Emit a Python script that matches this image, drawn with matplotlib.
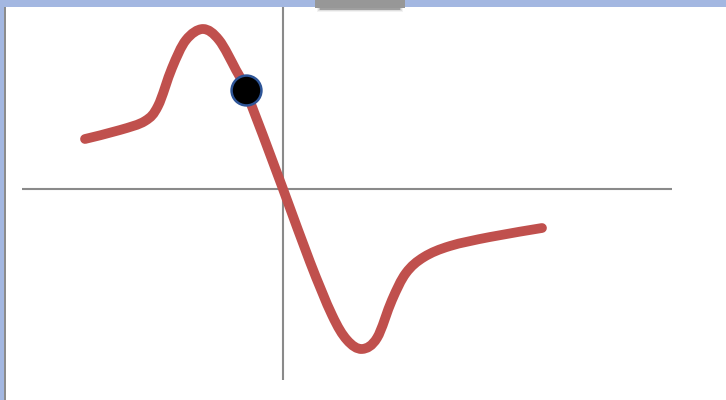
import matplotlib
matplotlib.use("Agg")
import matplotlib.pyplot as plt
from matplotlib.patches import Rectangle, PathPatch
from matplotlib.path import Path

# Curve values (offsets from the axes crossing; y up)
curve_x = [-198, -163, -138, -125, -111, -97, -80, -64, -47, -37, 0, 27, 49, 64, 79,
           94, 109, 123, 141, 167, 207, 259]
curve_y = [50, 59, 68, 83, 121, 149, 160, 149, 119, 98, 0, -73, -126, -151, -160,
           -149, -111, -84, -68, -57, -48, -39]
point_x = [-37]
point_y = [99]

# axis extents
h_axis = (-261, 389)
v_axis = (-191, 182)

W, H = 726, 400
fig = plt.figure(figsize=(W / 100, H / 100), dpi=100)
ax = fig.add_axes([0, 0, 1, 1])
ax.set_xlim(-283, W - 283)
ax.set_ylim(189 - H, 189)
ax.axis("off")

axis_col = "#8a8a8a"
ax.plot(h_axis, [0, 0], color=axis_col, lw=1.5, solid_capstyle="butt", zorder=1)
ax.plot([0, 0], v_axis, color=axis_col, lw=1.5, solid_capstyle="butt", zorder=1)

# smooth curve through the read points (Catmull-Rom as cubic Bezier)
pts = list(zip(curve_x, curve_y))
n = len(pts)
verts = [pts[0]]
codes = [Path.MOVETO]
for i in range(n - 1):
    p0 = pts[max(i - 1, 0)]
    p1 = pts[i]
    p2 = pts[i + 1]
    p3 = pts[min(i + 2, n - 1)]
    c1 = (p1[0] + (p2[0] - p0[0]) / 6, p1[1] + (p2[1] - p0[1]) / 6)
    c2 = (p2[0] - (p3[0] - p1[0]) / 6, p2[1] - (p3[1] - p1[1]) / 6)
    verts += [c1, c2, p2]
    codes += [Path.CURVE4] * 3
patch = PathPatch(Path(verts, codes), facecolor="none", edgecolor="#c0504d",
                  lw=7.0, capstyle="round", joinstyle="round", zorder=2)
ax.add_patch(patch)

ax.plot(point_x, point_y, "o", color="black", markersize=21.5,
        markeredgecolor="#2e5597", markeredgewidth=1.8, zorder=3)

# window frame decorations (figure pixel coordinates)
def fr(x, y, w, h, **kw):
    fig.patches.append(Rectangle((x / W, 1 - (y + h) / H), w / W, h / H,
                                 transform=fig.transFigure, **kw))

fr(0, 0, W, 7, color="#a3b7e1", lw=0, zorder=5)
fr(0, 0, 4, H, color="#a3b7e1", lw=0, zorder=5)
fr(4, 7, 1.6, H - 7, color="#8c8c8c", lw=0, zorder=5)
# tab with soft shadow
for i, a in enumerate([0.05, 0.08, 0.12, 0.18]):
    fr(317 + i, 8, 86 - 2 * i, 4 - i * 0.8, color="black", alpha=a, lw=0, zorder=5)
fr(315, 0, 90, 8, color="#979797", lw=0, zorder=6)

fig.savefig("out.png", dpi=100)
